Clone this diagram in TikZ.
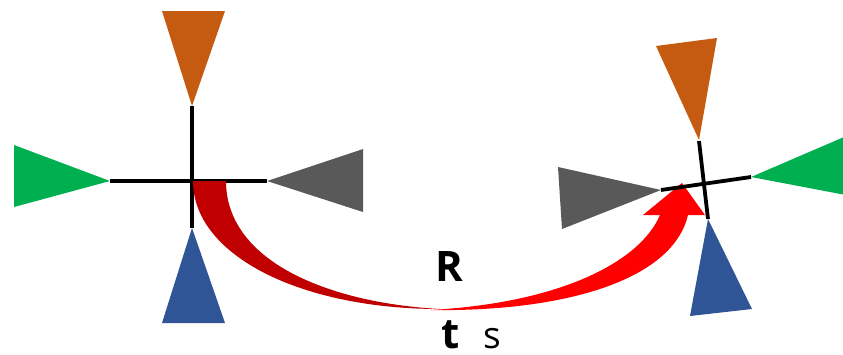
\documentclass[tikz,border=0pt]{standalone}
\usepackage{fontspec}
\setmainfont{Open Sans}
\definecolor{corange}{HTML}{C55A11}
\definecolor{cgreen}{HTML}{00B050}
\definecolor{cgray}{HTML}{595959}
\definecolor{cblue}{HTML}{2F5597}
\definecolor{cdred}{HTML}{C00000}
\definecolor{cred}{HTML}{FF0000}
\tikzset{arm/.style={line width=3.8pt,black}, lbl/.style={inner sep=0pt,anchor=base}}
\begin{document}
\begin{tikzpicture}[x=1pt,y=-1pt]
\useasboundingbox (0,0) rectangle (843,354);
\begin{scope}
\clip (0,0) rectangle (843,354);
% left cross
\fill[corange] (162,11) -- (225,11) -- (192,106) -- cycle;
\fill[cgreen] (14,145) -- (14,207) -- (110,181) -- cycle;
\fill[cgray] (363,149) -- (363,212) -- (267,181) -- cycle;
\fill[cblue] (162,323) -- (225,323) -- (192,228) -- cycle;
\draw[arm] (192,106) -- (192,228);
\draw[arm] (110,181) -- (267,181);
% red curved arrow, left part
\fill[cdred] (193,181) .. controls (193,255) and (300,309) .. (440,309)
  .. controls (330,303) and (226,262) .. (226,181) -- cycle;
% right part
\fill[cred] (430,310) .. controls (560,312) and (672,282) .. (688,215)
  -- (705,215) -- (682,183) -- (643,215) -- (660,215)
  .. controls (640,262) and (560,303) .. (430,310) -- cycle;
% right cross
\fill[corange] (656,46) -- (717,38) -- (699,140) -- cycle;
\fill[cgray] (558,167) -- (562,229) -- (661,190) -- cycle;
\fill[cgreen] (851,134) -- (851,196) -- (751,177) -- cycle;
\fill[cblue] (690,316) -- (752,309) -- (708,219) -- cycle;
\draw[arm] (699,141) -- (708,219);
\draw[arm] (661,190) -- (751,177);
\end{scope}
% labels
\node[lbl] (R) at (449,281) {\fontsize{42}{44}\selectfont\bfseries R};
\node[lbl] (t) at (451,348) {\fontsize{42}{44}\selectfont\bfseries t};
\node[lbl] (s) at (492,348) {\fontsize{37}{44}\selectfont s};
\end{tikzpicture}
\end{document}
